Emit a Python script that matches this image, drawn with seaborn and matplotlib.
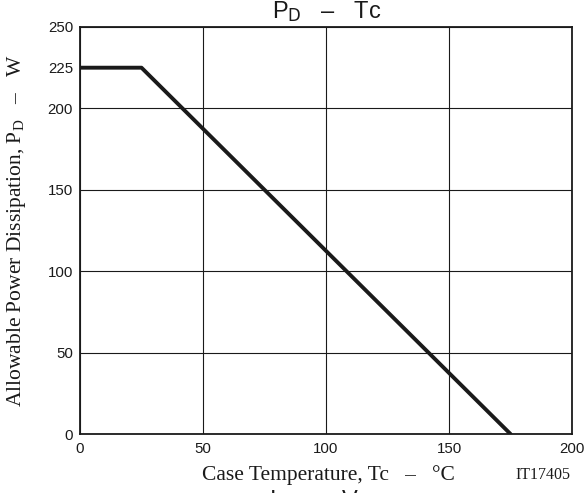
import matplotlib
matplotlib.use("Agg")
import matplotlib.pyplot as plt
import seaborn as sns
import pandas as pd

# Data
case_temp = [0, 25, 175]          # Tc (°C)
power_diss = [225, 225, 0]        # PD (W)
x_ticks = [0, 50, 100, 150, 200]
y_ticks = [0, 50, 100, 150, 200, 225, 250]

sns.set_style("white")
plt.rcParams['font.family'] = ['Liberation Sans', 'DejaVu Sans']
plt.rcParams['mathtext.fontset'] = 'custom'
plt.rcParams['mathtext.rm'] = 'Liberation Serif'
plt.rcParams['mathtext.it'] = 'Liberation Serif'

W, H = 585, 493
fig = plt.figure(figsize=(W / 100, H / 100), dpi=100)
ax = fig.add_axes([80 / W, 1 - 434 / H, (572 - 80) / W, (434 - 27) / H])

df = pd.DataFrame({"Tc": case_temp, "PD": power_diss})
sns.lineplot(data=df, x="Tc", y="PD", ax=ax, color="#1a1a1a", linewidth=2.8,
             sort=False, zorder=5)

ax.set_xlim(0, 200)
ax.set_ylim(0, 250)
ax.set_xticks(x_ticks)
ax.set_yticks(y_ticks)
ax.set_xticklabels([str(v) for v in x_ticks])
ax.set_yticklabels([str(v) for v in y_ticks])
ax.tick_params(axis='both', length=0, labelsize=10.8, colors='#1a1a1a')
ax.tick_params(axis='x', pad=6)
ax.tick_params(axis='y', pad=5)

ax.grid(True, color='#1a1a1a', linewidth=0.8)
for i, v in enumerate(y_ticks):
    if v == 225:
        ax.yaxis.get_gridlines()[i].set_visible(False)

for s in ax.spines.values():
    s.set_color('#1a1a1a')
    s.set_linewidth(1.3)
    s.set_visible(True)

ax.set_xlabel("")
ax.set_ylabel("")

serif = ['Liberation Serif', 'DejaVu Serif']
fig.text(328 / W, 1 - 475 / H, "Case Temperature, Tc   –   °C", family=serif,
         fontsize=15.5, ha='center', va='center', color='#1a1a1a')
fig.text(17 / W, 1 - 231 / H, "Allowable Power Dissipation, P$_{\\mathrm{D}}$   –   W",
         family=serif, fontsize=15.5, ha='center', va='center', rotation=90,
         color='#1a1a1a')
fig.text(543 / W, 1 - 475 / H, "IT17405", family=serif, fontsize=11.5,
         ha='center', va='center', color='#1a1a1a')

fig.text(327 / W, 1 - 19 / H, "P$_{\\mathsf{D}}$   –   Tc", fontsize=17,
         ha='center', va='baseline', color='#1a1a1a')
fig.text(325 / W, 1 - 489 / H, "I$_{\\mathsf{D}}$   –   V$_{\\mathsf{DS}}$", fontsize=17,
         ha='center', va='top', color='#1a1a1a')

fig.savefig("out.png", dpi=100)
